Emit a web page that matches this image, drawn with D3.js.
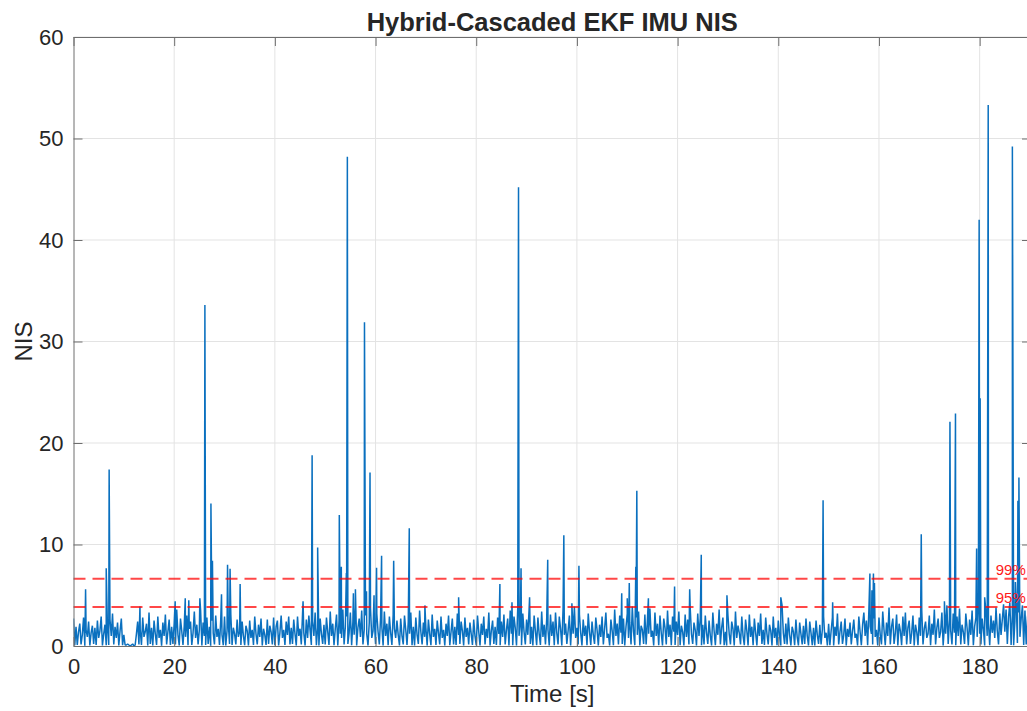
<!DOCTYPE html>
<html>
<head>
<meta charset="utf-8">
<script src="https://cdn.jsdelivr.net/npm/d3@7"></script>
<style>
  body { margin: 0; background: #fff; }
  text { font-family: "Liberation Sans", Arial, Helvetica, sans-serif; fill: #262626; }
</style>
</head>
<body>
<div id="chart"></div>
<script>
// chart size, plot box (right edge of the box runs past the picture)
const width = 1027;
const height = 711;
const plotLeft = 73.5, plotRight = 1031, plotTop = 37, plotBottom = 646;

// tick values
const xTicks = [0, 20, 40, 60, 80, 100, 120, 140, 160, 180];
const yTicks = [0, 10, 20, 30, 40, 50, 60];

// chi-square bounds (1 dof) and their labels
const boundValues = [6.63, 3.84];
const boundLabels = ["99%", "95%"];

// NIS background samples, one every 0.25 s (each row = 5 s)
const sampleStep = 0.25;
const nisSamples = [
  2.7,0.08,1.9,0.1,1.4,2.2,0.15,1.1,2.8,0.02,1.6,0.9,2.4,0.05,1.3,2.0,0.2,1.8,0.1,2.5,
  0.8,1.5,2.9,0.05,1.2,2.1,0.08,1.7,0.1,2.6,1.0,3.2,0.15,1.9,0.8,2.3,0.05,1.5,2.7,0.08,
  1.1,0.1,0.1,0.2,0.1,0.0,0.1,0.2,0.0,0.1,1.2,2.4,0.15,1.6,0.1,2.8,0.9,1.4,2.2,0.05,
  3.3,0.2,1.8,0.05,2.5,1.2,0.1,2.9,0.8,1.6,0.02,2.3,1.0,3.1,0.15,1.4,2.6,0.1,1.9,0.2,
  2.2,0.15,3.6,1.1,0.05,2.7,1.5,0.1,2.0,0.9,3.0,0.08,1.7,2.4,0.1,1.3,3.4,0.8,2.1,0.15,
  1.6,3.5,0.05,2.3,1.0,0.1,2.8,0.2,1.9,0.02,2.5,1.3,0.15,3.0,0.9,1.7,0.1,2.6,1.1,0.08,
  2.9,0.05,1.5,2.2,0.2,3.1,0.1,1.8,1.2,0.15,2.6,0.9,1.4,0.1,2.4,1.0,0.08,2.0,1.5,0.05,
  2.5,0.8,1.6,0.1,2.9,1.2,0.15,2.1,0.9,2.7,0.05,1.7,1.1,0.1,2.6,0.2,2.0,1.4,0.15,2.8,
  0.08,1.9,2.5,0.05,1.3,3.0,0.8,1.6,0.1,2.4,1.1,2.9,0.15,1.8,0.2,2.6,1.2,0.05,2.9,1.0,
  1.7,0.15,3.2,1.3,0.05,2.6,0.8,3.0,1.5,0.1,2.4,1.0,3.3,0.08,1.8,0.05,2.7,1.2,0.2,2.1,
  0.15,2.8,1.4,0.1,3.4,1.0,2.2,0.08,1.7,3.1,0.05,2.5,1.2,0.8,3.6,0.15,1.9,2.9,0.2,1.3,
  3.3,0.08,2.4,1.1,3.8,0.05,1.8,2.7,0.9,3.5,0.15,1.6,3.0,1.2,0.05,2.3,3.7,0.8,1.5,2.6,
  0.2,3.2,1.4,0.15,2.8,1.9,0.05,3.4,1.0,2.2,0.08,2.9,1.3,0.1,3.1,1.7,0.8,2.5,1.1,0.05,
  2.7,1.0,0.15,3.0,1.6,0.1,2.4,1.2,3.3,0.08,1.9,0.05,2.8,1.1,0.2,3.5,1.4,0.15,2.3,0.9,
  1.8,0.05,2.6,1.2,0.08,3.1,0.9,1.7,0.1,2.5,1.3,0.15,2.9,0.8,1.6,0.05,2.2,1.0,3.0,0.08,
  1.4,2.7,0.15,1.9,0.1,3.2,1.1,0.2,2.4,1.5,0.05,2.8,0.9,1.8,0.15,2.3,1.2,0.1,2.6,1.0,
  0.08,3.0,1.4,0.05,2.2,1.1,2.9,0.15,1.7,0.8,3.3,0.05,1.5,2.5,0.2,1.9,0.1,2.8,1.2,0.08,
  2.4,0.9,3.1,0.15,1.6,2.7,0.05,3.5,1.2,0.08,2.9,1.8,0.05,3.8,1.0,2.3,0.08,3.2,1.4,0.15,
  2.6,1.1,3.6,0.2,1.9,0.05,3.0,1.5,0.08,2.8,1.2,0.1,3.4,0.9,2.1,0.15,2.7,1.6,0.05,3.1,
  1.0,2.4,0.08,3.3,1.3,0.15,2.9,1.7,0.05,3.7,1.1,2.2,0.2,1.5,3.0,0.05,2.5,1.2,3.9,0.8,
  1.8,0.15,3.1,1.3,0.05,2.6,1.0,2.0,0.08,3.2,1.4,0.1,2.4,1.1,0.2,2.8,1.6,0.05,2.1,0.9,
  2.9,0.15,1.7,3.3,0.8,1.2,0.05,2.6,1.5,0.08,3.6,1.0,2.2,0.15,3.0,1.3,0.2,2.7,0.05,1.9,
  3.2,0.8,2.3,0.15,3.9,1.4,0.08,2.8,1.1,3.4,0.05,2.0,1.6,0.2,3.1,0.15,2.5,1.2,3.7,0.9,
  1.5,0.05,3.3,1.0,2.2,0.08,3.0,1.3,0.05,2.7,1.8,0.15,3.5,0.9,2.1,0.08,2.9,1.4,0.1,2.4,
  1.1,3.4,0.08,2.0,1.4,0.05,3.1,0.9,2.6,0.15,3.8,1.2,0.2,2.3,1.6,0.05,3.2,1.0,2.7,0.08,
  2.1,0.15,3.0,1.3,0.2,2.5,1.0,0.05,3.3,1.5,0.08,2.2,1.1,3.6,0.15,1.8,2.8,0.08,1.4,0.05,
  3.0,1.2,0.15,2.4,1.7,0.05,3.4,0.8,2.0,1.3,0.15,2.9,1.0,0.08,2.6,1.5,0.05,3.1,0.9,1.9,
  0.08,2.7,1.3,0.05,2.3,1.0,3.2,0.2,1.6,0.1,2.8,1.2,0.15,2.1,1.5,0.05,2.9,0.8,1.8,0.08,
  2.5,1.0,0.05,4.0,1.3,0.2,2.2,0.15,2.8,1.1,0.05,1.9,1.4,0.08,2.6,0.9,0.05,2.3,1.2,0.15,
  2.0,0.2,2.7,1.0,0.05,2.4,1.3,0.08,1.8,0.05,2.5,1.1,0.2,2.1,0.15,1.6,2.9,0.8,1.3,0.05,
  2.2,0.08,1.5,2.8,0.05,1.9,1.0,3.2,0.15,1.4,2.4,0.2,1.1,2.7,0.05,1.7,0.9,2.3,0.15,1.5,
  2.6,0.8,1.2,0.05,2.9,1.4,0.08,2.1,3.3,1.0,2.5,0.08,3.6,1.9,1.2,0.15,2.7,0.9,1.6,0.05,
  2.8,1.1,0.15,3.4,1.6,0.08,2.3,1.0,3.8,0.15,1.9,2.7,0.2,1.3,3.1,0.05,2.2,1.5,0.08,2.9,
  1.0,3.3,0.15,1.8,2.5,0.2,1.3,3.0,0.05,2.1,1.4,0.08,2.8,1.0,3.5,0.15,1.7,2.4,0.8,1.2,
  3.0,0.08,2.2,1.1,3.6,0.15,1.8,2.7,0.8,1.4,3.3,0.05,2.0,1.2,4.0,0.2,2.6,1.5,0.15,3.2,
  1.3,0.08,2.9,1.0,3.7,0.15,2.1,1.4,0.2,3.2,1.8,0.05,2.6,1.1,3.5,0.08,1.9,2.8,0.9,3.9,
  1.2,0.15,2.7,1.6,0.05,3.4,1.0,2.2,0.08,3.0,1.3,2.5,0.8,3.8,1.5,0.15,3.2,1.1,2.6,4.1,
  1.4,3.6,0.2,2.9,4.3,0.1,3.1,0.08,2.4,4.6,0.3,3.3,0.9,2.7,4.0,0.1,3.5,0.15,2.8,3.9,
  1.6,2.2
];

// outlier samples: [time s, NIS]
const nisSpikes = [
  [2.4,5.6],[6.5,7.65],[7.08,17.4],[13.2,3.9],[20.2,4.4],[22.2,4.7],[22.9,4.5],[25.1,4.7],
  [26.1,33.6],[27.3,14.05],[27.6,8.4],[29.4,5.1],[30.6,8.0],[31.1,7.6],[33.1,6.1],
  [45.6,4.4],[47.4,18.8],[48.5,9.7],[52.8,12.9],[53.2,7.8],[54.2,7.2],[54.4,48.2],
  [55.6,5.2],[56.0,5.6],[57.8,31.9],[58.2,5.4],[58.9,17.1],[59.7,5.0],[60.2,7.7],
  [61.2,8.9],[63.6,8.4],[66.7,11.6],[69.8,4.0],[76.5,4.8],[84.7,6.1],[87.1,4.3],
  [88.4,45.2],[88.9,7.65],[90.6,4.8],[94.2,8.5],[97.4,10.9],[99.0,4.2],[100.4,7.9],
  [108.9,5.2],[110.0,4.7],[110.4,6.2],[111.7,7.8],[111.9,15.3],[114.2,4.7],[119.4,5.85],
  [122.4,5.6],[124.7,9.0],[129.8,5.0],[140.5,4.8],[148.9,14.35],[150.8,4.3],
  [158.2,7.15],[158.6,5.5],[158.9,7.15],[159.1,6.2],[168.4,11.0],[173.0,4.4],
  [174.1,22.1],[175.2,22.9],[179.4,9.6],[179.9,42.0],[180.1,24.4],[181.0,4.8],
  [181.7,53.3],[186.5,49.2],[187.1,6.3],[187.6,14.3],[187.8,16.6]
];

// merge background and outliers into one time-ordered series
const series = nisSamples.map((v, i) => ({ t: i * sampleStep, v: v }))
  .concat(nisSpikes.map(d => ({ t: d[0], v: d[1] })))
  .sort((a, b) => a.t - b.t);

const svg = d3.select("#chart").append("svg").attr("width", width).attr("height", height);

const xscale = d3.scaleLinear().domain([0, 190.2]).range([plotLeft, plotRight]);
const yscale = d3.scaleLinear().domain([0, 60]).range([plotBottom, plotTop]);

//Grid lines
const grid = svg.append("g").attr("stroke", "#e3e3e3").attr("stroke-width", 1);
grid.selectAll(".gx").data(xTicks.slice(1)).enter().append("line")
  .attr("x1", d => xscale(d)).attr("x2", d => xscale(d))
  .attr("y1", plotTop).attr("y2", plotBottom);
grid.selectAll(".gy").data(yTicks.slice(1)).enter().append("line")
  .attr("x1", plotLeft).attr("x2", plotRight)
  .attr("y1", d => yscale(d)).attr("y2", d => yscale(d));

//Clip for the data
svg.append("defs").append("clipPath").attr("id", "plot-clip")
  .append("rect").attr("x", plotLeft).attr("y", plotTop)
  .attr("width", plotRight - plotLeft).attr("height", plotBottom - plotTop);

//NIS line
const line = d3.line().x(d => xscale(d.t)).y(d => yscale(d.v));
svg.append("path").datum(series)
  .attr("clip-path", "url(#plot-clip)")
  .attr("fill", "none").attr("stroke", "#0a70bf").attr("stroke-width", 1.5)
  .attr("stroke-linejoin", "bevel")
  .attr("d", line);

//Bounds
svg.selectAll(".bound").data(boundValues).enter().append("line")
  .attr("x1", plotLeft).attr("x2", plotRight)
  .attr("y1", d => yscale(d)).attr("y2", d => yscale(d))
  .attr("stroke", "#ff0000").attr("stroke-opacity", 0.72)
  .attr("stroke-width", 2).attr("stroke-dasharray", "12,7");

svg.selectAll(".boundLabel").data(boundValues).enter().append("text")
  .attr("x", xscale(183.2)).attr("y", d => yscale(d) - 4)
  .style("fill", "#ff1a1a").style("font-size", "15px")
  .text((d, i) => boundLabels[i]);

//Axes (ticks inward on all four sides)
const tickLen = 9;
const axisColor = "#6e6e6e";
const xAxis = d3.axisBottom(xscale).tickValues(xTicks).tickSizeInner(-tickLen).tickSizeOuter(0).tickPadding(12);
const yAxis = d3.axisLeft(yscale).tickValues(yTicks).tickSizeInner(-tickLen).tickSizeOuter(0).tickPadding(10);
const xTop = d3.axisTop(xscale).tickValues(xTicks).tickSizeInner(-tickLen).tickSizeOuter(0).tickFormat("");
const yRight = d3.axisRight(yscale).tickValues(yTicks).tickSizeInner(-tickLen).tickSizeOuter(0).tickFormat("");

const gx = svg.append("g").attr("transform", `translate(0, ${plotBottom})`).call(xAxis);
const gy = svg.append("g").attr("transform", `translate(${plotLeft}, 0)`).call(yAxis);
const gt = svg.append("g").attr("transform", `translate(0, ${plotTop})`).call(xTop);
const gr = svg.append("g").attr("transform", `translate(${plotRight}, 0)`).call(yRight);

[gx, gy, gt, gr].forEach(g => {
  g.select(".domain").attr("stroke", axisColor);
  g.selectAll(".tick line").attr("stroke", axisColor);
  g.selectAll(".tick text").style("font-size", "22px").style("fill", "#262626")
    .attr("font-family", null);
});

//Axis labels
svg.append("text").attr("x", (plotLeft + plotRight) / 2).attr("y", 702)
  .attr("text-anchor", "middle").style("font-size", "24px").text("Time [s]");
svg.append("text").attr("transform", `translate(32, ${(plotTop + plotBottom) / 2}) rotate(-90)`)
  .attr("text-anchor", "middle").style("font-size", "24px").text("NIS");

//Title
svg.append("text").attr("x", (plotLeft + plotRight) / 2).attr("y", 31)
  .attr("text-anchor", "middle").style("font-size", "25.5px").style("font-weight", "bold")
  .text("Hybrid-Cascaded EKF IMU NIS");
</script>
</body>
</html>
